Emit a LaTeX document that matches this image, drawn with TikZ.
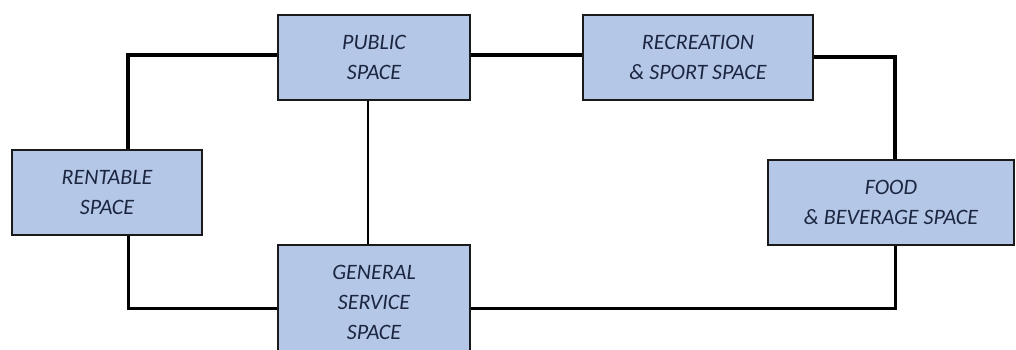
\documentclass[tikz,border=0pt]{standalone}
\usepackage{fontspec}
\setmainfont{Carlito}
\definecolor{boxfill}{HTML}{B4C7E7}
\definecolor{boxtext}{HTML}{1C2640}
\definecolor{boxline}{HTML}{1A1A1A}
\begin{document}
\begin{tikzpicture}[x=1pt,y=-1pt,
  space/.style={draw=boxline, line width=1.6pt, fill=boxfill, rectangle, inner sep=0pt,
    align=center, text=boxtext, font=\fontsize{22}{30}\selectfont\itshape},
  link/.style={draw=black, line width=3.5pt},
  linkmid/.style={draw=black, line width=3pt},
  linkthin/.style={draw=black, line width=2pt}]
\useasboundingbox (0,0) rectangle (1016,349);
\clip (0,0) rectangle (1016,349);
\fill[white] (0,0) rectangle (1016,349);
% nodes
\node[space, minimum width=192pt, minimum height=85pt] (pub) at (374,57.5) {PUBLIC\\SPACE};
\node[space, minimum width=230pt, minimum height=85pt] (rec) at (698,57.5) {RECREATION\\\&~SPORT SPACE};
\node[space, minimum width=190pt, minimum height=85pt] (rent) at (107,192.5) {RENTABLE\\SPACE};
\node[space, minimum width=192pt, minimum height=115pt] (gen) at (374,302.5) {GENERAL\\SERVICE\\SPACE};
\node[space, minimum width=246pt, minimum height=85pt] (food) at (891,202.5) {FOOD\\\&~BEVERAGE SPACE};
% connectors
\draw[link] ([yshift=2.5pt]pub.west) -| ([xshift=21pt]rent.north);
\draw[link] ([yshift=2.5pt]pub.east) -- ([yshift=2.5pt]rec.west);
\draw[link] ([yshift=0.5pt]rec.east) -| ([xshift=4pt]food.north);
\draw[linkthin] ([xshift=-6pt]pub.south) -- ([xshift=-6pt]gen.north);
\draw[linkmid] ([xshift=21pt]rent.south) |- ([yshift=-5.5pt]gen.west);
\draw[linkmid] ([yshift=-5.5pt]gen.east) -| ([xshift=4pt]food.south);
\end{tikzpicture}
\end{document}
